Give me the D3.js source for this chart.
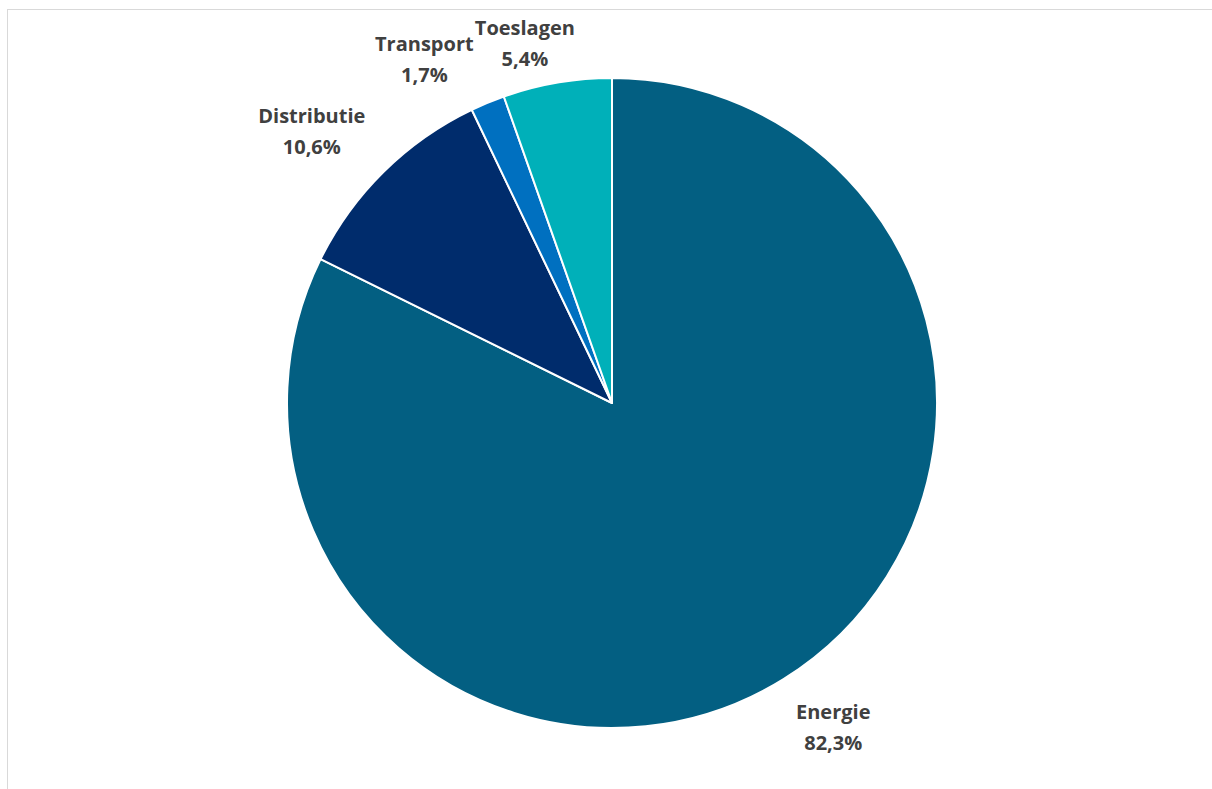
<!DOCTYPE html>
<html><head><meta charset="utf-8">
<script src="https://cdn.jsdelivr.net/npm/d3@7"></script>
<style>html,body{margin:0;padding:0;background:#fff;}svg{display:block;}</style>
</head><body>
<svg id="chart" width="1212" height="789"></svg>
<script>
const categories = ["Energie", "Distributie", "Transport", "Toeslagen"];
const values = [82.3, 10.6, 1.7, 5.4];
const valueLabels = ["82,3%", "10,6%", "1,7%", "5,4%"];
const colors = ["#035F82", "#002C6C", "#0070C0", "#00B0B9"];

// layout
const W = 1212, H = 789;
const cx = 612, cy = 403, R = 325;
// label placement: radius and angle nudge (deg) per slice, to mimic the best-fit layout
const labelRadius = [392, 405, 392, 370];
const labelAngleNudge = [-2.5, -3.2, -6.1, -3.9];

const svg = d3.select("#chart");
svg.append("rect").attr("x", 7.5).attr("y", 9.5).attr("width", 1300).attr("height", 1000)
  .attr("fill", "#fff").attr("stroke", "#d9d9d9").attr("stroke-width", 1);

const data = categories.map((c, i) => ({cat: c, value: values[i], label: valueLabels[i], color: colors[i], i}));
const pie = d3.pie().value(d => d.value).sort(null);
const arcs = pie(data);
const arc = d3.arc().innerRadius(0).outerRadius(R);

const g = svg.append("g").attr("transform", `translate(${cx},${cy})`);
g.selectAll("path").data(arcs).join("path")
  .attr("d", arc)
  .attr("fill", d => d.data.color)
  .attr("stroke", "#fff").attr("stroke-width", 2).attr("stroke-linejoin", "round");

const lab = g.selectAll("text.lbl").data(arcs).join("text")
  .attr("class", "lbl")
  .attr("text-anchor", "middle")
  .attr("font-family", "'Open Sans', sans-serif")
  .attr("font-weight", "bold")
  .attr("font-size", 20)
  .attr("fill", "#404040")
  .attr("transform", d => {
    const a = (d.startAngle + d.endAngle) / 2 + labelAngleNudge[d.data.i] * Math.PI / 180;
    const r = labelRadius[d.data.i];
    return `translate(${r * Math.sin(a)},${-r * Math.cos(a)})`;
  });
lab.append("tspan").attr("x", 0).attr("y", -8).text(d => d.data.cat);
lab.append("tspan").attr("x", 0).attr("y", 23).text(d => d.data.label);
</script>
</body></html>
